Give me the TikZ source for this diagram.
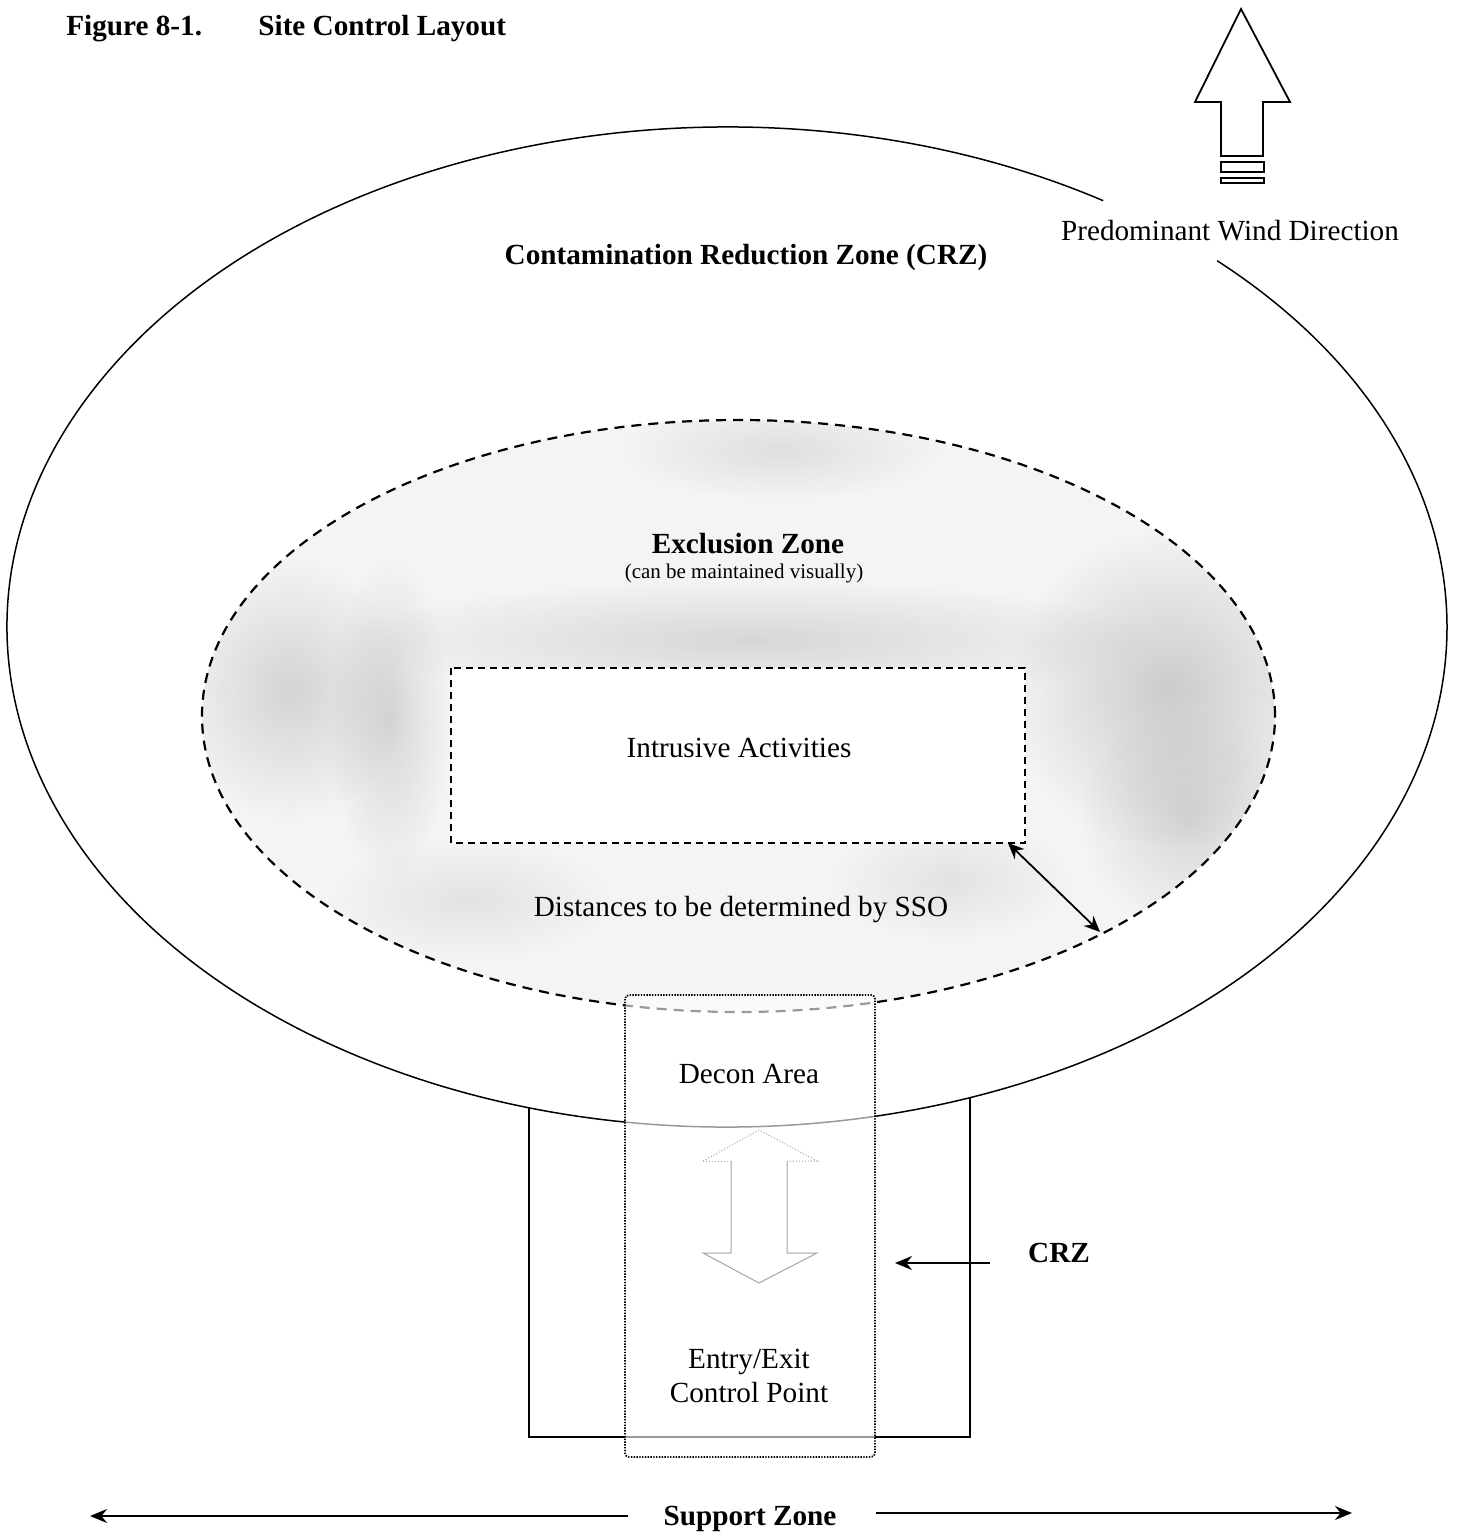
\documentclass[tikz,border=0pt]{standalone}
\usepackage{fontspec}
\setmainfont{Liberation Serif}
\usetikzlibrary{arrows.meta,fadings}
\tikzfading[name=blobfade, inner color=transparent!0, outer color=transparent!100]
\begin{document}
\begin{tikzpicture}[x=0.5pt,y=-0.5pt,
  txt/.style={inner sep=0pt,font=\fontsize{14.6}{17}\selectfont},
  btxt/.style={txt,font=\fontsize{14.6}{17}\selectfont\bfseries},
  smalltxt/.style={inner sep=0pt,font=\fontsize{10.5}{12}\selectfont},
  zoneline/.style={line width=0.75pt},
  exdash/.style={line width=1.1pt,dash pattern=on 5pt off 3.5pt},
  iadash/.style={line width=0.9pt,dash pattern=on 3.5pt off 2.5pt},
  dotbox/.style={line width=0.9pt,dash pattern=on 0.7pt off 0.7pt},
  hollow/.style={line width=0.5pt,draw=gray!70},
  blob/.style={fill=gray,fill opacity=#1,path fading=blobfade},
  tip/.style={-{Stealth[length=8.5pt,width=7pt]},line width=1pt},
  dtip/.style={{Stealth[length=8pt,width=7pt]}-{Stealth[length=8pt,width=7pt]},line width=0.9pt}]
\useasboundingbox (0,0) rectangle (1461,1534);
% exclusion zone fill
\begin{scope}
  \clip (738.5,716) ellipse [x radius=268.25pt, y radius=148pt];
  \fill[gray!9] (738.5,716) ellipse [x radius=268.25pt, y radius=148pt];
  \path[blob=0.25] (750,640) ellipse [x radius=200pt, y radius=30pt];
  \path[blob=0.35] (1170,690) ellipse [x radius=80pt, y radius=80pt];
  \path[blob=0.25] (1190,820) ellipse [x radius=55pt, y radius=55pt];
  \path[blob=0.28] (290,690) ellipse [x radius=60pt, y radius=65pt];
  \path[blob=0.25] (390,720) ellipse [x radius=30pt, y radius=80pt];
  \path[blob=0.18] (780,450) ellipse [x radius=80pt, y radius=25pt];
  \path[blob=0.15] (470,900) ellipse [x radius=70pt, y radius=30pt];
  \path[blob=0.15] (950,880) ellipse [x radius=60pt, y radius=30pt];
\end{scope}
% intrusive activities box
\draw[iadash,fill=white] (451,668) rectangle (1025,843);
% exclusion zone outline
\draw[exdash] (738.5,716) ellipse [x radius=268.25pt, y radius=148pt];
% contamination reduction zone (outer ellipse, broken by the wind label)
\draw[zoneline] (1103.2,200.7) arc [start angle=58.5, end angle=407.1, x radius=360pt, y radius=250pt];
% lower CRZ rectangle
\draw[zoneline] (529,1108) -- (529,1437) -- (970,1437) -- (970,1097.6);
% decon box
\fill[white,fill opacity=0.6] (625,995) rectangle (875,1457);
\draw[dotbox,rounded corners=2pt] (625,995) rectangle (875,1457);
% hollow double arrow
\draw[hollow,densely dotted] (703,1161) -- (759,1130) -- (817,1161) -- (787,1161);
\draw[hollow] (787,1161) -- (787,1253) -- (817,1253) -- (759,1283) -- (703,1253) -- (731,1253) -- (731,1161);
\draw[hollow,densely dotted] (731,1161) -- (703,1161);
% wind arrow
\draw[line width=0.9pt,line join=miter] (1241,9) -- (1290,102) -- (1263,102) -- (1263,156) -- (1221,156) -- (1221,102) -- (1195,102) -- cycle;
\draw[line width=0.9pt] (1221,162) rectangle (1264,172);
\draw[line width=0.9pt] (1221,178) rectangle (1264,183);
% texts
\node[btxt,anchor=west] (fig) at (66,29) {Figure 8-1.};
\node[btxt,anchor=west] (ttl) at (258,29) {Site Control Layout};
\node[txt] (wind) at (1230,231) {Predominant Wind Direction};
\node[btxt] (crz) at (746,257) {Contamination Reduction Zone (CRZ)};
\node[btxt] (ez) at (748,544) {Exclusion Zone};
\node[smalltxt] (ezs) at (744,573) {(can be maintained visually)};
\node[txt] (ia) at (739,748) {Intrusive Activities};
\node[txt] (dist) at (741,910) {Distances to be determined by SSO};
\node[txt] (decon) at (749,1074) {Decon Area};
\node[txt,align=center] (entry) at (749,1376) {Entry/Exit\\[0pt]Control Point};
\node[btxt] (crz2) at (1059,1253) {CRZ};
\node[btxt] (sz) at (750,1519) {Support Zone};
% connectors
\coordinate (iaC) at (1008,843);
\coordinate (ezC) at (1100,932);
\draw[dtip] (iaC) -- (ezC);
\coordinate (crzA) at (990,1263);
\coordinate (crzB) at (895,1263);
\draw[tip] (crzA) -- (crzB);
\coordinate (szL) at (628,1516);
\coordinate (szLend) at (90,1516);
\coordinate (szR) at (876,1513);
\coordinate (szRend) at (1352,1513);
\draw[tip] (szL) -- (szLend);
\draw[tip] (szR) -- (szRend);
\end{tikzpicture}
\end{document}
